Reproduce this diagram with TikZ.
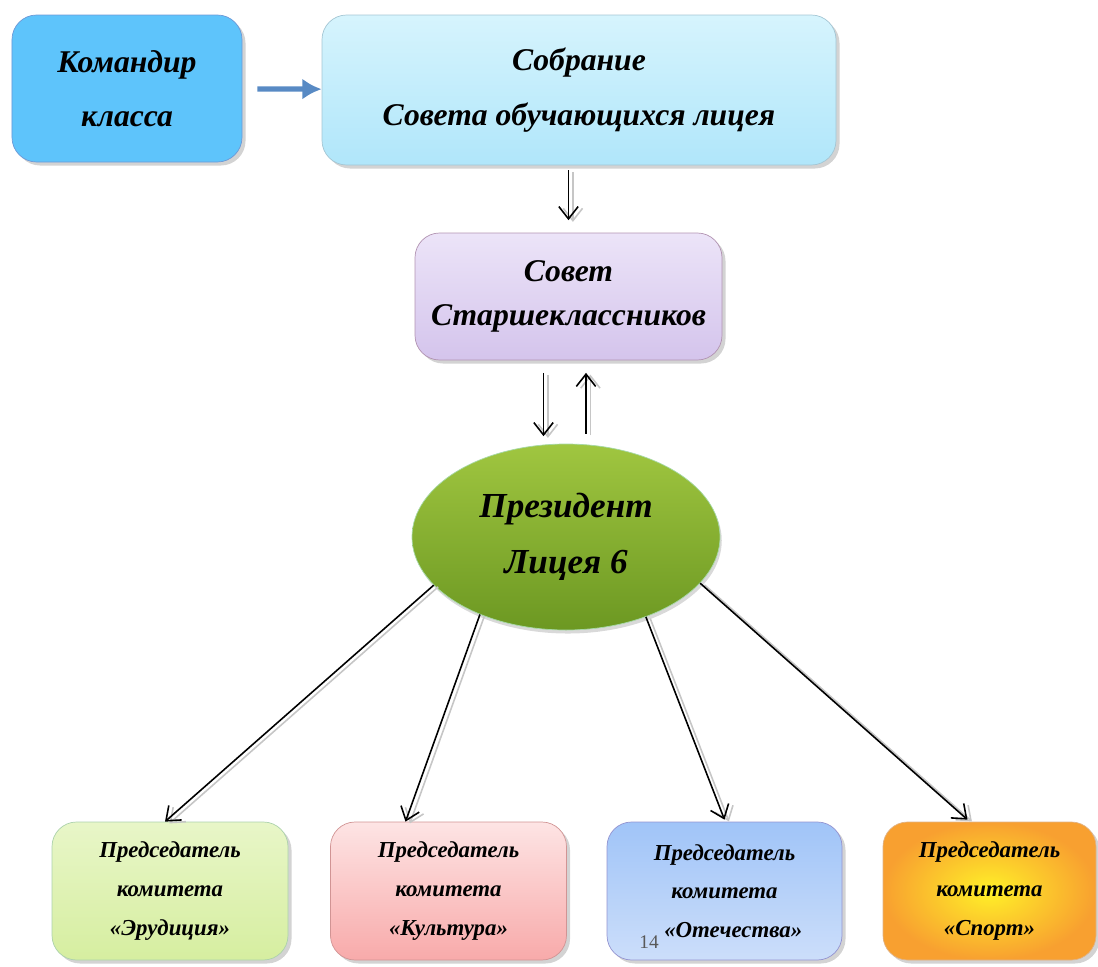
\documentclass[tikz,border=0pt]{standalone}
\usepackage{fontspec}
\setmainfont{Liberation Serif}
\usepackage{tikz}
\usetikzlibrary{shapes,arrows,arrows.meta,shadows}

\tikzstyle{box} = [draw, rounded corners=14pt, align=center, drop shadow={opacity=0.35, shadow xshift=2pt, shadow yshift=-2pt},
  font=\bfseries\itshape\fontsize{18}{31}\selectfont]
\tikzstyle{small} = [box, font=\bfseries\itshape\fontsize{13}{22}\selectfont, minimum width=4.72cm, minimum height=2.76cm]
\tikzstyle{twin} = [-{Straight Barb[length=7pt,width=11pt]}, line width=0.9pt, black,
  preaction={draw, -{Straight Barb[length=7pt,width=11pt]}, gray!45, line width=0.9pt, transform canvas={xshift=2.5pt, yshift=-1pt}}]

\begin{document}
\begin{tikzpicture}
\useasboundingbox (0,0) rectangle (21.96,-19.34);

\node[box, name = kom, draw=cyan!50!blue!60, fill={rgb,255:red,94;green,196;blue,251},
minimum width=4.6cm, minimum height=2.94cm] (kom) at (2.54,-1.77) {Командир\\класса};
\node[box, name = sobr, draw=cyan!40!gray!60, top color={rgb,255:red,214;green,244;blue,253},
bottom color={rgb,255:red,176;green,230;blue,250}, minimum width=10.28cm, minimum height=3.0cm]
(sobr) at (11.58,-1.8) {Собрание\\Совета обучающихся лицея};
\node[box, name = sovet, draw=violet!40!gray!60, top color={rgb,255:red,236;green,228;blue,248},
bottom color={rgb,255:red,212;green,196;blue,236}, minimum width=6.14cm, minimum height=2.54cm,
font=\bfseries\itshape\fontsize{18}{25}\selectfont]
(sovet) at (11.37,-5.93) {Совет\\Старшеклассников};
\node[ellipse, name = pres, draw=green!40!gray!50, top color={rgb,255:red,160;green,198;blue,64},
bottom color={rgb,255:red,108;green,152;blue,34}, minimum width=6.16cm, minimum height=3.72cm,
align=center, font=\bfseries\itshape\fontsize{20}{32}\selectfont,
drop shadow={opacity=0.3, shadow xshift=1pt, shadow yshift=-2pt}]
(pres) at (11.32,-10.74) {Президент\\Лицея 6};

\node[small, name = erud, draw=green!30!gray!50, top color={rgb,255:red,232;green,246;blue,200},
bottom color={rgb,255:red,214;green,238;blue,160}] (erud) at (3.4,-17.82) {Председатель\\комитета\\«Эрудиция»};
\node[small, name = kult, draw=red!40!gray!60, top color={rgb,255:red,253;green,228;blue,228},
bottom color={rgb,255:red,248;green,170;blue,170}] (kult) at (8.97,-17.82) {Председатель\\комитета\\«Культура»};
\node[small, name = otech, draw=blue!40!gray!60, top color={rgb,255:red,160;green,196;blue,248},
bottom color={rgb,255:red,204;green,222;blue,250}, minimum width=4.7cm] (otech) at (14.49,-17.82) {Председатель\\комитета\\\hspace*{0.35cm}«Отечества»};
\node[small, name = sport, draw=orange!60!gray!60, inner color={rgb,255:red,255;green,240;blue,40},
outer color={rgb,255:red,248;green,160;blue,48}, minimum width=4.26cm] (sport) at (19.79,-17.82) {Председатель\\комитета\\«Спорт»};

\node[name = page, gray!70!black, font=\fontsize{11}{13}\selectfont, inner sep=1pt] (page) at (12.98,-18.85) {14};

\path
(kom) edge [-{Latex[length=11pt,width=12pt]}, line width=3pt, draw={rgb,255:red,88;green,138;blue,196}, shorten <=0.3cm] (sobr)
(sobr.south -| sovet.north) edge [twin, shorten <=0.1cm, shorten >=0.25cm] (sovet.north)
([xshift=-0.5cm]sovet.south) edge [twin, shorten <=0.25cm, shorten >=0.15cm] ([xshift=-0.5cm]sovet.south |- pres.north)
([xshift=0.35cm]sovet.south |- pres.north) edge [twin, shorten <=0.2cm, shorten >=0.25cm] ([xshift=0.35cm]sovet.south)
(pres.200) edge [twin] ([xshift=-0.1cm]erud.north)
(pres.222) edge [twin] ([xshift=-0.86cm]kult.north)
(pres.315) edge [twin] ([yshift=0.04cm]otech.north)
(pres.341) edge [twin] ([xshift=-0.44cm, yshift=0.04cm]sport.north);

\end{tikzpicture}
\end{document}
